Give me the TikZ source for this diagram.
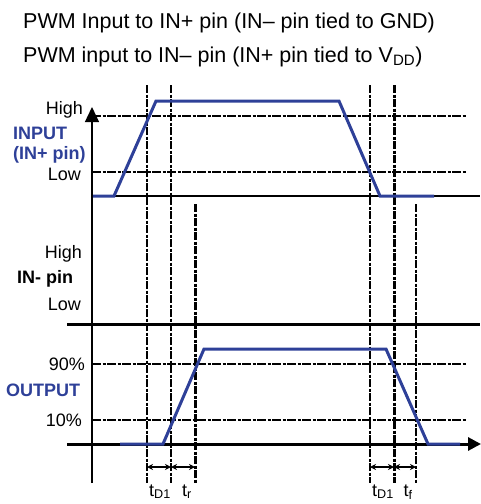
\documentclass[tikz,border=0pt]{standalone}
\usepackage{fontspec}
\setmainfont{Liberation Sans}
\usetikzlibrary{arrows.meta}
\definecolor{tiblue}{RGB}{46,64,152}
\begin{document}
\begin{tikzpicture}[x=1pt,y=-1pt,
  title/.style={anchor=base west,inner sep=0pt,font=\fontsize{21.5}{24}\selectfont},
  lbl/.style={anchor=east,inner sep=0pt,font=\fontsize{18}{20}\selectfont},
  blbl/.style={inner sep=0pt,font=\fontsize{18}{20}\selectfont\bfseries},
  tlbl/.style={anchor=base,inner sep=0pt,font=\fontsize{18}{20}\selectfont},
  hdash/.style={line width=2pt,dash pattern=on 9pt off 1.5pt on 3pt off 1.5pt},
  vdash/.style={line width=2.2pt,dash pattern=on 8pt off 1.5pt on 3pt off 1.5pt},
  vdashb/.style={line width=3pt,dash pattern=on 8pt off 1.5pt on 3pt off 1.5pt},
  trace/.style={tiblue,line width=3pt,line join=miter},
  dim/.style={line width=1.3pt,{Stealth[length=6pt,width=6pt]}-{Stealth[length=6pt,width=6pt]}}]
\useasboundingbox (0,0) rectangle (480,504);
% titles
\node[title] (t1) at (23,28) {PWM Input to IN+ pin (IN– pin tied to GND)};
\node[title] (t2) at (23,62) {PWM input to IN– pin (IN+ pin tied to V\textsubscript{DD})};
% coordinates
\coordinate (axb) at (92,483);
\coordinate (axt) at (92,107);
% horizontal dashed levels
\coordinate (hiL) at (92,116);  \coordinate (hiR) at (466,116);
\coordinate (loL) at (92,172);  \coordinate (loR) at (466,172);
\coordinate (n9L) at (92,364);  \coordinate (n9R) at (466,364);
\coordinate (n1L) at (92,420);  \coordinate (n1R) at (466,420);
\draw[hdash] (hiL) -- (hiR);
\draw[hdash] (loL) -- (loR);
\draw[hdash] (n9L) -- (n9R);
\draw[hdash] (n1L) -- (n1R);
% baselines
\coordinate (ib0) at (92,196); \coordinate (ib1) at (480,196);
\draw[line width=1.5pt] (ib0) -- (ib1);
\coordinate (nb0) at (67,324); \coordinate (nb1) at (480,324);
\draw[line width=3pt] (nb0) -- (nb1);
\coordinate (ob0) at (67,444); \coordinate (ob1) at (481,444);
\draw[line width=3pt,-{Triangle[length=13pt,width=13pt]}] (ob0) -- (ob1);
% vertical dashed lines
\foreach \x/\n in {147/a,171/b,370/d}{
  \coordinate (v\n0) at (\x,85); \coordinate (v\n1) at (\x,483);
  \draw[vdash] (v\n0) -- (v\n1);}
\coordinate (ve0) at (394,85); \coordinate (ve1) at (394,483);
\draw[vdashb] (ve0) -- (ve1);
\coordinate (vc0) at (195,204); \coordinate (vc1) at (195,483);
\draw[vdashb] (vc0) -- (vc1);
\coordinate (vf0) at (416,204); \coordinate (vf1) at (416,483);
\draw[vdash] (vf0) -- (vf1);
% axis
\draw[line width=1.3pt,-{Triangle[length=15pt,width=14pt]}] (axb) -- (axt);
% input trace
\draw[trace] (93,196) -- (114,196) -- (156,101) -- (339,101) -- (380,196) -- (434,196);
% output trace
\draw[trace] (120,444) -- (163,444) -- (204,349) -- (386,349) -- (428,444) -- (460,444);
% dimension arrows
\coordinate (da) at (147,467); \coordinate (db) at (171,467); \coordinate (dc) at (195,467);
\coordinate (dd) at (370,467); \coordinate (de) at (394,467); \coordinate (df) at (416,467);
\draw[dim] (da) -- (db);
\draw[dim] (db) -- (dc);
\draw[dim] (dd) -- (de);
\draw[dim] (de) -- (df);
% labels
\node[lbl] (lh1) at (83,110) {High};
\node[blbl,anchor=west,tiblue] (lin) at (13,133) {INPUT};
\node[blbl,anchor=west,tiblue] (linp) at (13,155) {(IN+ pin)};
\node[lbl] (ll1) at (81,174) {Low};
\node[lbl] (lh2) at (82,254) {High};
\node[blbl,anchor=west] (lnp) at (17,279) {IN- pin};
\node[lbl] (ll2) at (81,304) {Low};
\node[lbl] (l90) at (85,364) {90\%};
\node[blbl,anchor=west,tiblue] (lout) at (6,390) {OUTPUT};
\node[lbl] (l10) at (82,420) {10\%};
\node[tlbl] (td1) at (160,496) {t\textsubscript{D1}};
\node[tlbl] (tr) at (187,496) {t\textsubscript{r}};
\node[tlbl] (td2) at (383,496) {t\textsubscript{D1}};
\node[tlbl] (tf) at (408,496) {t\textsubscript{f}};
\end{tikzpicture}
\end{document}
